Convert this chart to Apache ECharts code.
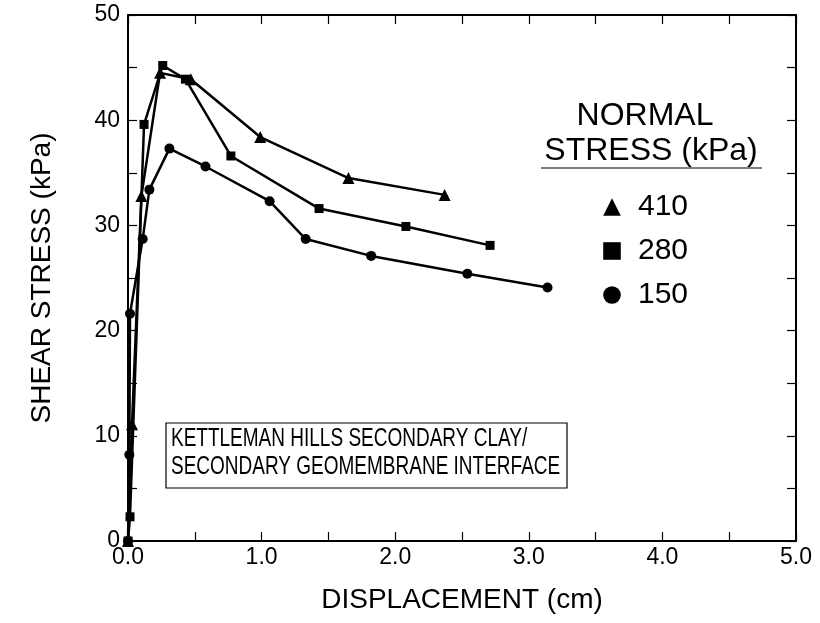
<!DOCTYPE html>
<html><head><meta charset="utf-8">
<script src="https://cdn.jsdelivr.net/npm/echarts@6/dist/echarts.min.js"></script>
<style>html,body{margin:0;padding:0;background:#fff}#c{width:820px;height:623px}</style>
</head><body><div id="c"></div>
<script>
// ---- data ----
const seriesNames = ['410', '280', '150'];
const disp410  = [0, 0.03, 0.10, 0.24, 0.47, 0.99, 1.65, 2.37];
const shear410 = [0, 11.1, 32.8, 44.5, 43.9, 38.4, 34.5, 32.9];
const disp280  = [0, 0.015, 0.12, 0.26, 0.43, 0.77, 1.43, 2.08, 2.71];
const shear280 = [0, 2.3, 39.6, 45.2, 43.9, 36.6, 31.6, 29.9, 28.1];
const disp150  = [0, 0.01, 0.015, 0.11, 0.16, 0.31, 0.58, 1.06, 1.33, 1.82, 2.54, 3.14];
const shear150 = [0, 8.2, 21.6, 28.7, 33.4, 37.3, 35.6, 32.3, 28.7, 27.1, 25.4, 24.1];
const xTickLabels = ['0.0', '1.0', '2.0', '3.0', '4.0', '5.0'];
const yTickLabels = ['0', '10', '20', '30', '40', '50'];
const xTitle = 'DISPLACEMENT (cm)';
const yTitle = 'SHEAR STRESS (kPa)';
const legendTitle = ['NORMAL', 'STRESS (kPa)'];
const noteLines = ['KETTLEMAN HILLS SECONDARY CLAY/', 'SECONDARY GEOMEMBRANE INTERFACE'];

const FONT = '"Liberation Sans", Arial, Helvetica, sans-serif';
const pair = (xs, ys) => xs.map((x, i) => [x, ys[i]]);

const chart = echarts.init(document.getElementById('c'));
const axisCommon = {
  axisLine: { show: true, onZero: false, lineStyle: { color: '#000', width: 2 } },
  axisTick: { show: true, inside: true, length: 9, lineStyle: { color: '#000', width: 1.2 } },
  splitLine: { show: false }
};
const xLabelFmt = v => {
  const i = Math.round(v);
  return Math.abs(v - i) < 1e-6 ? (xTickLabels[i] || '') : '';
};
const yLabelFmt = v => (v % 10 === 0 ? (yTickLabels[v / 10] || '') : '');

const mk = (name, data, symbol, size) => ({
  name, type: 'line', data, symbol, symbolSize: size, showAllSymbol: true,
  lineStyle: { color: '#000', width: 2.5 }, itemStyle: { color: '#000' },
  animation: false, xAxisIndex: 0, yAxisIndex: 0
});

chart.setOption({
  backgroundColor: '#fff',
  animation: false,
  grid: { left: 128, right: 24, top: 15, bottom: 82 },
  xAxis: [
    Object.assign({}, axisCommon, {
      type: 'value', min: 0, max: 5, interval: 0.5, position: 'bottom',
      axisLabel: { formatter: xLabelFmt, color: '#000', fontFamily: FONT, fontSize: 23, margin: 5 },
      name: xTitle, nameLocation: 'middle', nameGap: 45,
      nameTextStyle: { color: '#000', fontFamily: FONT, fontSize: 28 }
    }),
    Object.assign({}, axisCommon, {
      type: 'value', min: 0, max: 5, interval: 0.5, position: 'top',
      axisLabel: { show: false }
    })
  ],
  yAxis: [
    Object.assign({}, axisCommon, {
      type: 'value', min: 0, max: 50, interval: 5, position: 'left',
      axisLabel: { formatter: yLabelFmt, color: '#000', fontFamily: FONT, fontSize: 23, margin: 8 },
      name: yTitle, nameLocation: 'middle', nameGap: 72,
      nameTextStyle: { color: '#000', fontFamily: FONT, fontSize: 28 }
    }),
    Object.assign({}, axisCommon, {
      type: 'value', min: 0, max: 50, interval: 5, position: 'right',
      axisLabel: { show: false }
    })
  ],
  legend: {
    data: seriesNames,
    orient: 'vertical', left: 595, top: 187,
    itemWidth: 22, itemHeight: 22, itemGap: 14,
    lineStyle: { opacity: 0 },
    textStyle: { color: '#000', fontFamily: FONT, fontSize: 30, padding: [0, 0, 0, 10] },
    selectedMode: false
  },
  graphic: [
    { type: 'text', x: 645, y: 116, style: { text: legendTitle[0], fill: '#000', font: '32px ' + FONT, textAlign: 'center', textVerticalAlign: 'middle' } },
    { type: 'text', x: 651, y: 151, style: { text: legendTitle[1], fill: '#000', font: '32px ' + FONT, textAlign: 'center', textVerticalAlign: 'middle' } },
    { type: 'line', shape: { x1: 541, y1: 168, x2: 762, y2: 168 }, style: { stroke: '#000', lineWidth: 1.2 } },
    { type: 'rect', shape: { x: 166, y: 423, width: 401, height: 65 }, style: { fill: '#fff', stroke: '#000', lineWidth: 1.2 } },
    { type: 'text', x: 171, y: 439, scaleX: 0.76, style: { text: noteLines[0], fill: '#000', font: '25px ' + FONT, textVerticalAlign: 'middle' } },
    { type: 'text', x: 171, y: 467, scaleX: 0.76, style: { text: noteLines[1], fill: '#000', font: '25px ' + FONT, textVerticalAlign: 'middle' } }
  ],
  series: [
    mk(seriesNames[0], pair(disp410, shear410), 'triangle', 12),
    mk(seriesNames[1], pair(disp280, shear280), 'rect', 9),
    mk(seriesNames[2], pair(disp150, shear150), 'circle', 10)
  ]
});
</script></body></html>
